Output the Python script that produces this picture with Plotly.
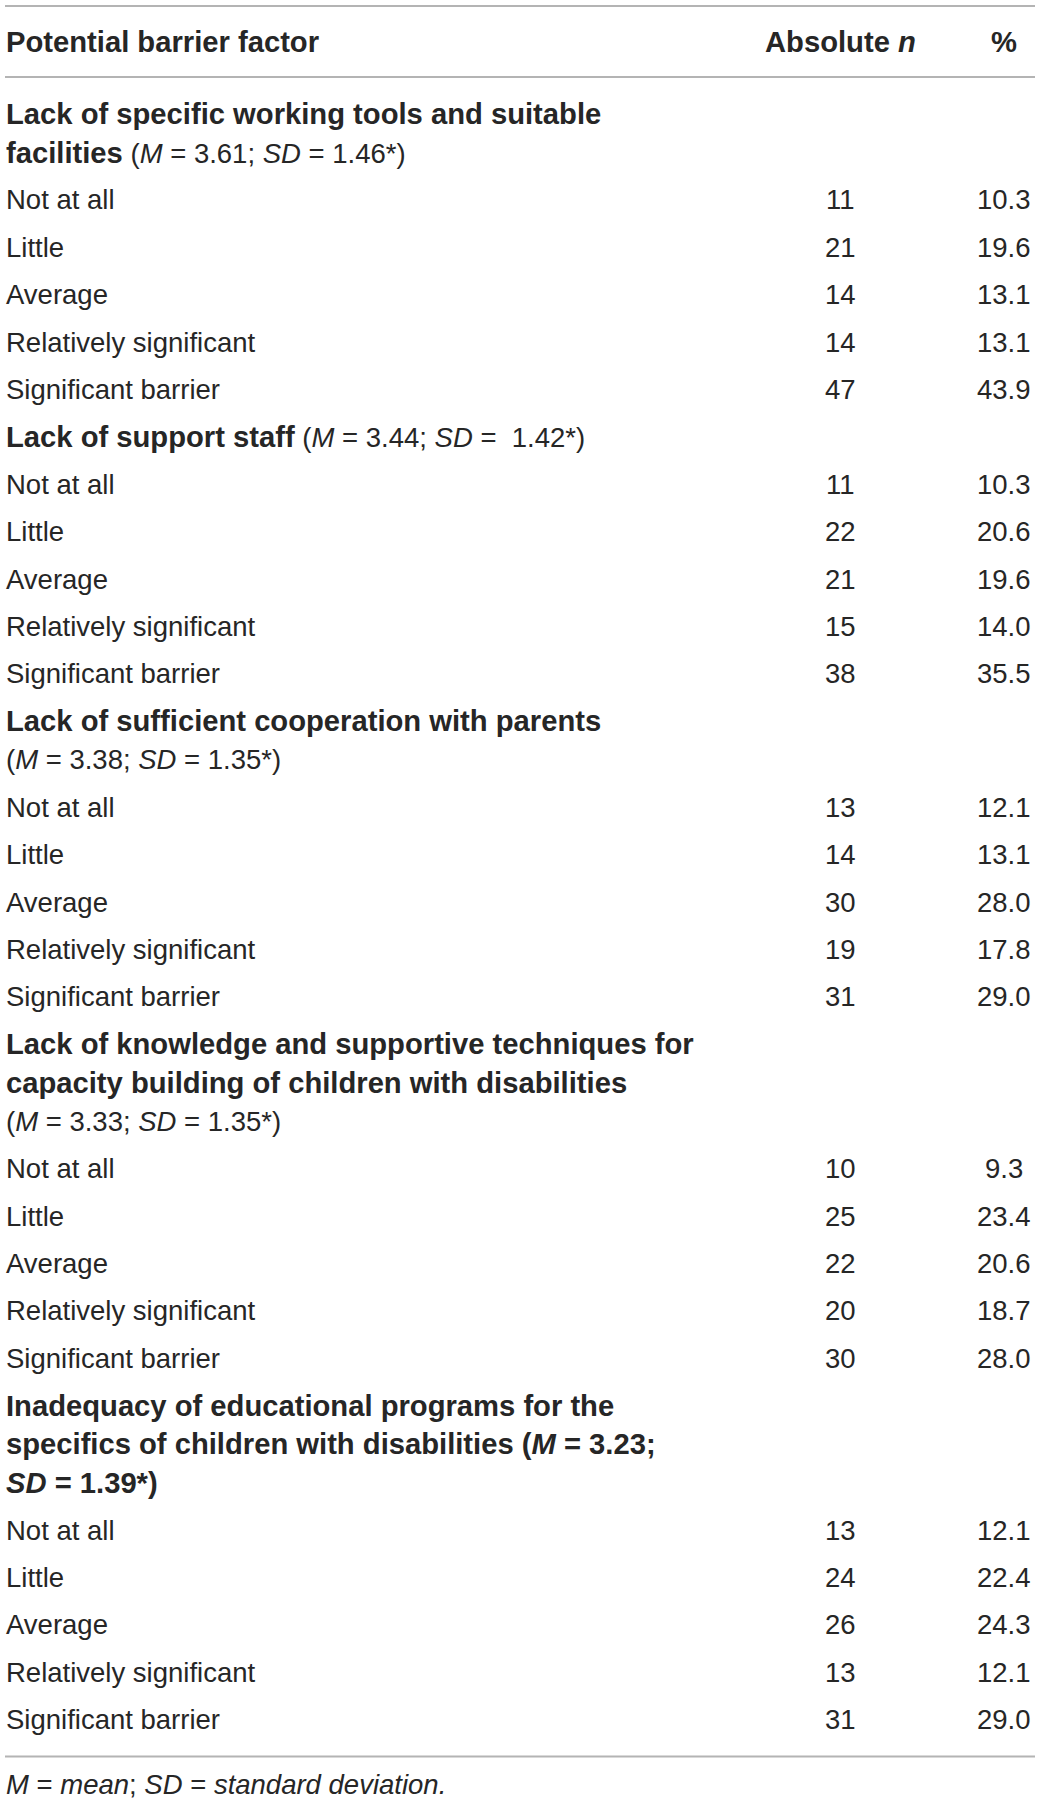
import plotly.graph_objects as go

# %%
# table content
header = ["<b>Potential barrier factor</b>", "<b>Absolute <i>n</i></b>", "<b>%</b>"]
levels = ["Not at all", "Little", "Average", "Relatively significant", "Significant barrier"]

headings = [
    ["<b>Lack of specific working tools and suitable</b>",
     "<b>facilities</b> (<i>M</i> = 3.61; <i>SD</i> = 1.46*)"],
    ["<b>Lack of support staff</b> (<i>M</i> = 3.44; <i>SD</i> =\u00a0 1.42*)"],
    ["<b>Lack of sufficient cooperation with parents</b>",
     "(<i>M</i> = 3.38; <i>SD</i> = 1.35*)"],
    ["<b>Lack of knowledge and supportive techniques for</b>",
     "<b>capacity building of children with disabilities</b>",
     "(<i>M</i> = 3.33; <i>SD</i> = 1.35*)"],
    ["<b>Inadequacy of educational programs for the</b>",
     "<b>specifics of children with disabilities (<i>M</i> = 3.23;</b>",
     "<b><i>SD</i> = 1.39*)</b>"],
]

n_tools = [11, 21, 14, 14, 47]
pct_tools = [10.3, 19.6, 13.1, 13.1, 43.9]
n_staff = [11, 22, 21, 15, 38]
pct_staff = [10.3, 20.6, 19.6, 14.0, 35.5]
n_parents = [13, 14, 30, 19, 31]
pct_parents = [12.1, 13.1, 28.0, 17.8, 29.0]
n_knowledge = [10, 25, 22, 20, 30]
pct_knowledge = [9.3, 23.4, 20.6, 18.7, 28.0]
n_programs = [13, 24, 26, 13, 31]
pct_programs = [12.1, 22.4, 24.3, 12.1, 29.0]

counts = [n_tools, n_staff, n_parents, n_knowledge, n_programs]
percents = [pct_tools, pct_staff, pct_parents, pct_knowledge, pct_programs]

footnote = "<i>M</i> = <i>mean</i>; <i>SD</i> = <i>standard deviation.</i>"

# %%
# layout constants (pixels)
W, H = 1040, 1803
FONT = "Liberation Sans, Arial, Helvetica, sans-serif"
SIZE = 27.5
BOLD_SIZE = 29.2
TXT = "#262626"
RULE = "#b4b4b4"
X_LEFT, X_N, X_PCT = 4, 840, 1004
Y_HEAD = 42
Y_FIRST = 114
PITCH_WRAP = 38.5   # between wrapped lines of a heading
PITCH_ROW = 47.4    # between rows

annotations = []


def styled(text):
    # bold face in the source is a little wider, so bump its size
    return (text.replace("<b>", f'<span style="font-size:{BOLD_SIZE}px"><b>')
                .replace("</b>", "</b></span>"))


def add_text(x, y, text, anchor="left"):
    annotations.append(dict(
        x=x, y=y, xref="x", yref="y", text=styled(text), showarrow=False,
        xanchor=anchor, yanchor="middle",
        font=dict(family=FONT, size=SIZE, color=TXT),
    ))


# header row
add_text(X_LEFT, Y_HEAD, header[0])
add_text(X_N, Y_HEAD, header[1], "center")
add_text(X_PCT, Y_HEAD, header[2], "center")

# body rows
y = Y_FIRST
for g, lines in enumerate(headings):
    if g > 0:
        y += PITCH_ROW
    for i, line in enumerate(lines):
        if i > 0:
            y += PITCH_WRAP
        add_text(X_LEFT, y, line)
    for lvl, n, p in zip(levels, counts[g], percents[g]):
        y += PITCH_ROW
        add_text(X_LEFT, y, lvl)
        add_text(X_N, y, str(n), "center")
        add_text(X_PCT, y, f"{p:.1f}", "center")

y_bottom_rule = y + 37
add_text(X_LEFT, y_bottom_rule + 28, footnote)

rules = [6, 77, y_bottom_rule]
shapes = [dict(type="line", xref="x", yref="y", x0=5, x1=1035, y0=r, y1=r,
               line=dict(color=RULE, width=2)) for r in rules]

fig = go.Figure()
fig.update_layout(
    width=W, height=H,
    margin=dict(l=0, r=0, t=0, b=0),
    paper_bgcolor="white", plot_bgcolor="white",
    xaxis=dict(range=[0, W], visible=False, fixedrange=True),
    yaxis=dict(range=[H, 0], visible=False, fixedrange=True),
    annotations=annotations, shapes=shapes,
    showlegend=False,
)
# drop the default page margin so the figure sits at the window's corner
fig.write_html("out.html", config={"displayModeBar": False},
               post_script="document.body.style.margin='0px';")
